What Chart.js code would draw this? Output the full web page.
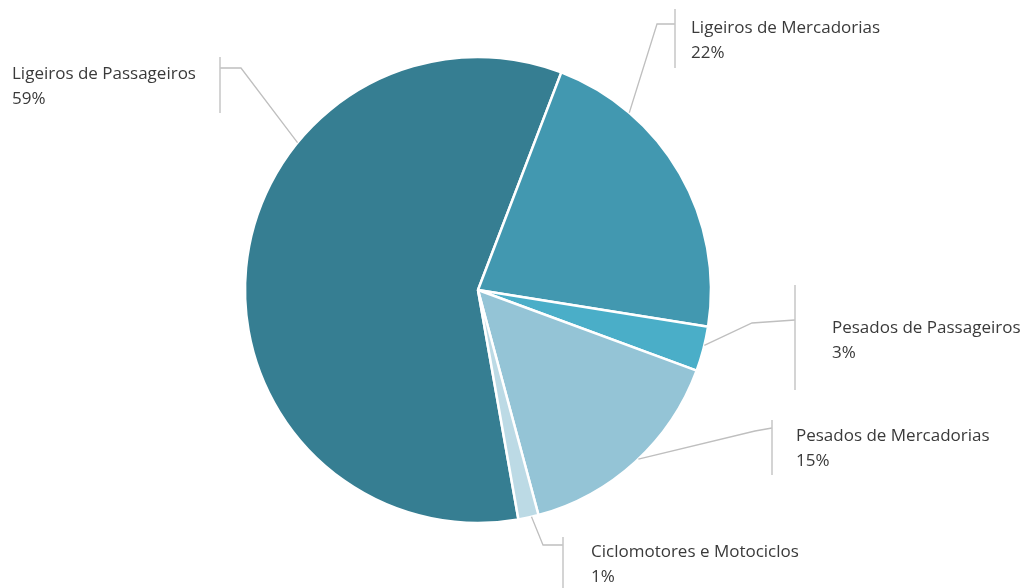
<!DOCTYPE html>
<html>
<head>
<meta charset="utf-8">
<script src="https://cdn.jsdelivr.net/npm/chart.js@4"></script>
<style>
  html, body { margin: 0; padding: 0; background: #ffffff; }
  #wrap { width: 1025px; height: 588px; position: relative; }
</style>
</head>
<body>
<div id="wrap"><canvas id="pieChart"></canvas></div>
<script>
// --- DATA ---
const categories = ['Ligeiros de Passageiros', 'Ligeiros de Mercadorias', 'Pesados de Passageiros', 'Pesados de Mercadorias', 'Ciclomotores e Motociclos'];
const shares = [58.6, 21.7, 3.1, 15.2, 1.4];

// --- STYLE ---
const sliceColors = ['#367e92', '#4298b0', '#4aaec8', '#94c4d6', '#bcdae5'];
const textColor = '#3a3a3a';
const leaderColor = '#bfbfbf';
const labelFont = '17px "Open Sans", "DejaVu Sans", sans-serif';

// callout layout: where on the slice the leader starts (fraction of arc), the path, the bracket and text position
const callouts = [
    { at: 0.66, path: [[241, 68], [220, 68]], bar: [220, 57, 113], text: [12, 74] },
    { at: 0.25, path: [[657, 24], [675, 24]], bar: [675, 9, 68], text: [691, 28] },
    { at: 0.42, path: [[752, 323], [795, 320]], bar: [795, 285, 390], text: [832, 328] },
    { at: 0.48, path: [[755, 431], [772, 428]], bar: [772, 420, 475], text: [796, 436] },
    { at: 0.35, path: [[543, 545], [563, 545]], bar: [563, 537, 590], text: [591, 552] }
];

// --- CALLOUT LABEL PLUGIN ---
const calloutPlugin = {
    id: 'callouts',
    afterDraw(chart) {
        const ctx = chart.ctx;
        const meta = chart.getDatasetMeta(0);
        ctx.save();
        meta.data.forEach((arc, i) => {
            const c = callouts[i];
            const { x, y, startAngle, endAngle, outerRadius } = arc.getProps(['x', 'y', 'startAngle', 'endAngle', 'outerRadius'], true);
            const a = startAngle + (endAngle - startAngle) * c.at;
            const ax = x + Math.cos(a) * outerRadius;
            const ay = y + Math.sin(a) * outerRadius;

            // leader line
            ctx.strokeStyle = leaderColor;
            ctx.lineWidth = 1.3;
            ctx.beginPath();
            ctx.moveTo(ax, ay);
            c.path.forEach(p => ctx.lineTo(p[0], p[1]));
            ctx.stroke();

            // bracket
            ctx.strokeStyle = '#c6c6c6';
            ctx.lineWidth = 1.5;
            ctx.beginPath();
            ctx.moveTo(c.bar[0], c.bar[1]);
            ctx.lineTo(c.bar[0], c.bar[2]);
            ctx.stroke();

            // text
            ctx.fillStyle = textColor;
            ctx.font = labelFont;
            ctx.textAlign = 'left';
            ctx.textBaseline = 'middle';
            ctx.fillText(chart.data.labels[i], c.text[0], c.text[1]);
            const v = chart.data.datasets[0].data[i];
            ctx.fillText(Math.round(v) + '%', c.text[0], c.text[1] + 25);
        });
        ctx.restore();
    }
};

// --- CHART CREATION ---
function createChart() {
    const ctx = document.getElementById('pieChart').getContext('2d');
    new Chart(ctx, {
        type: 'pie',
        data: {
            labels: categories,
            datasets: [{
                data: shares,
                backgroundColor: sliceColors,
                borderColor: '#ffffff',
                borderWidth: 2.5,
                radius: 233
            }]
        },
        options: {
            responsive: true,
            maintainAspectRatio: false,
            animation: false,
            rotation: -190,
            layout: { padding: { left: 0, right: 69, top: 0, bottom: 8 } },
            plugins: {
                legend: { display: false },
                tooltip: { enabled: false }
            }
        },
        plugins: [calloutPlugin]
    });
}

document.addEventListener('DOMContentLoaded', function() {
    createChart();
});
</script>
</body>
</html>
